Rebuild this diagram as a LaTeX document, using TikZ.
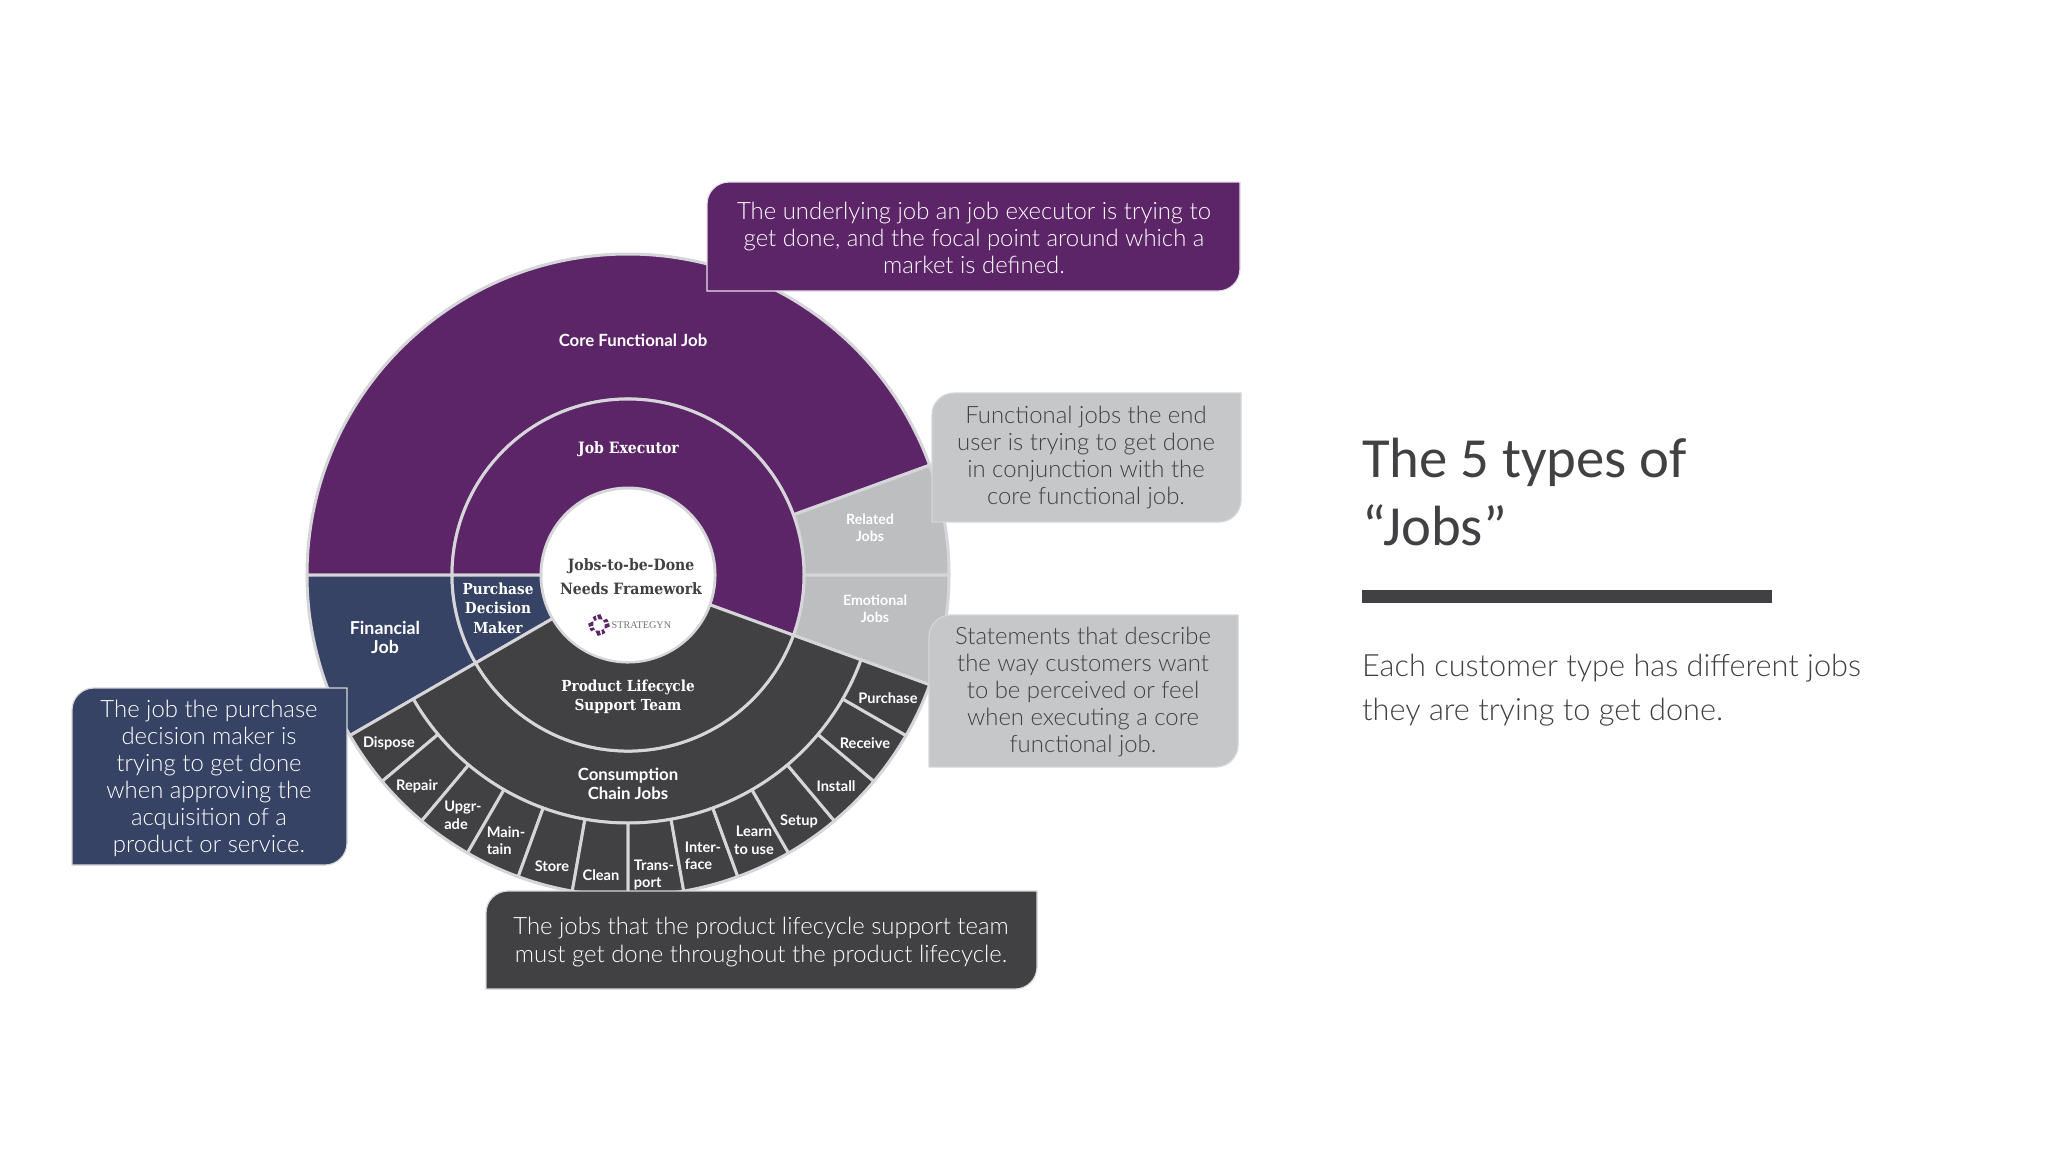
\documentclass[tikz,border=0pt]{standalone}
\usepackage{fontspec}
\setmainfont{Lato}
\newfontfamily\titlefont{Carlito}
\newfontfamily\bodyfont{Lato Light}
\newfontfamily\labelfont{Lato}[BoldFont={Lato Bold}]
\newfontfamily\slabfont{DejaVu Serif Condensed}
\newfontfamily\logofont{Liberation Serif}
\definecolor{jpurple}{HTML}{5C2568}
\definecolor{jnavy}{HTML}{374365}
\definecolor{jdark}{HTML}{414042}
\definecolor{jgray}{HTML}{BCBEC0}
\definecolor{jcall}{HTML}{C6C7C9}
\definecolor{jline}{HTML}{D6D6DA}
\newcommand{\sect}[5]{% a1 a2 r1 r2 colour
  \path[ringpart,fill=#5] ({628+#3*cos(#1)},{-575+#3*sin(#1)})
    arc[start angle=#1,end angle=#2,radius=#3]
    -- ({628+#4*cos(#2)},{-575+#4*sin(#2)})
    arc[start angle=#2,end angle=#1,radius=#4] -- cycle;}
\newcommand{\callout}[6]{% x1 y1 x2 y2 colour border
  \path[fill=#5,draw=#6,line width=1.2pt] (#1,-#4) -- (#1,{-#2-22})
    arc[start angle=180,end angle=90,radius=22] -- (#3,-#2) -- (#3,{-#4+22})
    arc[start angle=0,end angle=-90,radius=22] -- cycle;}
\tikzset{
  x=1pt,y=1pt,
  ringpart/.style={draw=jline,line width=3pt,line join=round},
  seglabel/.style={text=white,font=\labelfont\bfseries\fontsize{14.6}{17.5}\selectfont,align=center,inner sep=0pt},
  midlabel/.style={text=white,font=\labelfont\bfseries\fontsize{16.8}{19}\selectfont,align=center,inner sep=0pt},
  slablabel/.style={text=white,font=\slabfont\bfseries\fontsize{15.6}{19}\selectfont,align=center,inner sep=0pt},
  calltext/.style={font=\bodyfont\fontsize{23.9}{27}\selectfont,align=center,inner sep=0pt},
}
\begin{document}
\begin{tikzpicture}
\useasboundingbox[fill=white] (0,0) rectangle (2048,-1152);
% rings
\sect{20}{180}{176}{321}{jpurple}
\sect{0}{20}{176}{321}{jgray}
\sect{-20}{0}{176}{321}{jgray}
\sect{180}{210}{176}{321}{jnavy}
\sect{-20}{180}{87}{176}{jpurple}
\sect{180}{210}{87}{176}{jnavy}
\sect{210}{340}{176}{248}{jdark}
\foreach \a in {210,220,...,330}{
  \pgfmathtruncatemacro{\b}{\a+10}
  \sect{\a}{\b}{248}{321}{jdark}
}
\sect{210}{340}{87}{176}{jdark}
\path[fill=white] (628,-575.5) circle[radius=85.5];
% ring labels
\node[midlabel] (core) at (633,-340.5) {Core Functional Job};
\node[slablabel] (exec) at (628.5,-449) {Job Executor};
\node[midlabel,font=\labelfont\bfseries\fontsize{14.2}{17.5}\selectfont] (rel) at (870,-528) {Related\\Jobs};
\node[midlabel,font=\labelfont\bfseries\fontsize{14.2}{17.5}\selectfont] (emo) at (875,-609) {Emotional\\Jobs};
\node[midlabel,font=\labelfont\bfseries\fontsize{17.8}{19}\selectfont] (fin) at (385,-637) {Financial\\Job};
\node[slablabel,font=\slabfont\bfseries\fontsize{15.2}{19.5}\selectfont] (pdm) at (498,-608) {Purchase\\Decision\\Maker};
\node[slablabel,font=\slabfont\bfseries\fontsize{15.2}{19.5}\selectfont] (pls) at (628,-697) {Product Lifecycle\\Support Team};
\node[midlabel] (chain) at (628,-784) {Consumption\\Chain Jobs};
\node[slablabel,text=jdark,font=\slabfont\bfseries\fontsize{15.6}{24}\selectfont] (jtbd) at (631,-576.5) {Jobs-to-be-Done\\Needs Framework};
% logo
\foreach \r in {0,90,180,270}{
  \begin{scope}[shift={(599,-625)},rotate=\r+15,scale=0.92]
    \fill[jpurple] (5,-5.5) -- (11,-4.5) -- (11,-0.8) -- (6,-1) -- cycle;
    \fill[jpurple] (6,1) -- (11,0.8) -- (10,4.5) -- (5.5,3.5) -- cycle;
  \end{scope}
}
\node[text=black!55,font=\logofont\fontsize{10.2}{12}\selectfont,inner sep=0pt,anchor=west] (logo) at (611.5,-625) {STRATEGYN};
% segment labels
\node[seglabel] (s1) at (888,-698) {Purchase};
\node[seglabel] (s2) at (865,-743) {Receive};
\node[seglabel] (s3) at (836,-786) {Install};
\node[seglabel] (s4) at (799,-821) {Setup};
\node[seglabel] (s5) at (754,-840.5) {Learn\\to use};
\node[seglabel,align=left] (s6) at (703,-856) {Inter-\\face};
\node[seglabel,align=left] (s7) at (654,-875) {Trans-\\port};
\node[seglabel] (s8) at (601,-875) {Clean};
\node[seglabel] (s9) at (552,-866) {Store};
\node[seglabel,align=left] (s10) at (506,-840.5) {Main-\\tain};
\node[seglabel,align=left] (s11) at (463,-815.5) {Upgr-\\ade};
\node[seglabel] (s12) at (417,-786) {Repair};
\node[seglabel] (s13) at (389,-743) {Dispose};
% callouts
\callout{707}{182}{1240}{291}{jpurple}{white!85!jpurple}
\callout{932}{393}{1241}{522}{jcall}{jline}
\callout{929}{615}{1238}{767}{jcall}{jline}
\callout{72}{688}{347}{865}{jnavy}{jline}
\callout{486}{891}{1037}{989}{jdark}{jline}
\node[calltext,text=white] (t1) at (974,-237.5) {The underlying job an job executor is trying to\\get done, and the focal point around which a\\market is defined.};
\node[calltext,text=jdark] (t2) at (1086,-458) {Functional jobs the end\\user is trying to get done\\in conjunction with the\\core functional job.};
\node[calltext,text=jdark] (t3) at (1083,-692) {Statements that describe\\the way customers want\\to be perceived or feel\\when executing a core\\functional job.};
\node[calltext,text=white] (t4) at (209,-778) {The job the purchase\\decision maker is\\trying to get done\\when approving the\\acquisition of a\\product or service.};
\node[calltext,text=white,font=\bodyfont\fontsize{23.9}{28}\selectfont] (t5) at (761,-942) {The jobs that the product lifecycle support team\\must get done throughout the product lifecycle.};
% right side
\node[text=jdark,font=\titlefont\fontsize{56.7}{68}\selectfont,align=left,anchor=north west,inner sep=0pt] (title) at (1362,-438) {The 5 types of\\“Jobs”};
\path[fill=jdark] (1362,-590) rectangle (1772,-603);
\node[text=jdark,font=\bodyfont\fontsize{30.7}{44}\selectfont,align=left,anchor=north west,inner sep=0pt] (sub) at (1362,-654) {Each customer type has different jobs\\they are trying to get done.};
\end{tikzpicture}
\end{document}
